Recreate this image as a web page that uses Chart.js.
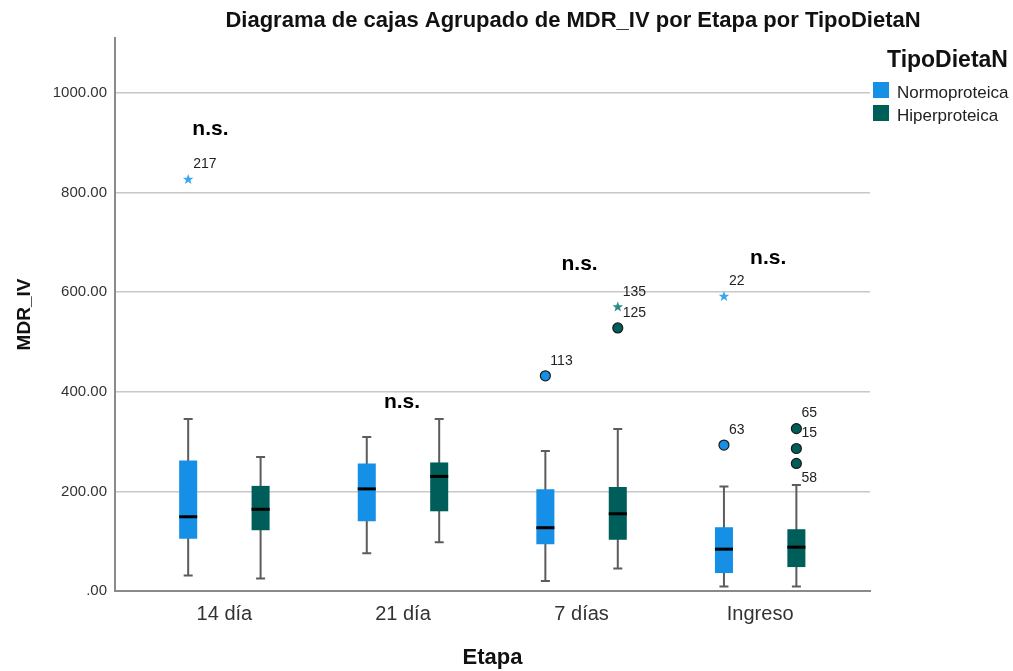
<!DOCTYPE html>
<html>
<head>
<meta charset="utf-8">
<script src="https://cdn.jsdelivr.net/npm/chart.js@4/dist/chart.umd.min.js"></script>
<style>
  html, body { margin: 0; padding: 0; background: #fff; }
  canvas { display: block; }
</style>
</head>
<body>
<canvas id="chart" width="1013" height="671"></canvas>
<script>
// categories (Etapa) and y ticks
const etapas = ["14 día", "21 día", "7 días", "Ingreso"];
const yTicks = [0, 200, 400, 600, 800, 1000];
const seriesNames = ["Normoproteica", "Hiperproteica"];

// Normoproteica box stats per etapa
const normoMin = [31, 76, 20, 9];
const normoQ1 = [105, 140, 94, 36];
const normoMed = [149, 205, 127, 84];
const normoQ3 = [262, 256, 204, 128];
const normoMax = [345, 309, 281, 210];

// Hiperproteica box stats per etapa
const hiperMin = [25, 98, 45, 9];
const hiperQ1 = [122, 160, 103, 48];
const hiperMed = [164, 230, 155, 88];
const hiperQ3 = [211, 258, 209, 124];
const hiperMax = [269, 345, 325, 213];

// outliers: [etapa index, value, case number, extreme?]
const normoOutliers = [[0, 826, "217", true], [2, 432, "113", false], [3, 293, "63", false], [3, 591, "22", true]];
const hiperOutliers = [[2, 528, "125", false], [2, 570, "135", true], [3, 326, "65", false], [3, 286, "15", false], [3, 256, "58", false]];

// significance labels above each etapa
const sigText = ["n.s.", "n.s.", "n.s.", "n.s."];
const sigValue = [926, 378, 655, 669];

const BLUE = "#168fe6";
const GREEN = "#005e5a";
const BLUE_STAR = "#3aa6f2";
const GREEN_STAR = "#2a8c84";
const FONT = "'Liberation Sans', Arial, sans-serif";

const stats = [
  { min: normoMin, q1: normoQ1, med: normoMed, q3: normoQ3, max: normoMax, out: normoOutliers, color: BLUE, star: BLUE_STAR },
  { min: hiperMin, q1: hiperQ1, med: hiperMed, q3: hiperQ3, max: hiperMax, out: hiperOutliers, color: GREEN, star: GREEN_STAR }
];

function drawStar(ctx, x, y, ro, ri, color) {
  ctx.beginPath();
  for (let k = 0; k < 10; k++) {
    const r = k % 2 === 0 ? ro : ri;
    const a = -Math.PI / 2 + k * Math.PI / 5;
    const px = x + r * Math.cos(a), py = y + r * Math.sin(a);
    k === 0 ? ctx.moveTo(px, py) : ctx.lineTo(px, py);
  }
  ctx.closePath();
  ctx.fillStyle = color;
  ctx.fill();
}

// whiskers, medians, outliers, labels, title and legend
const boxExtras = {
  id: "boxExtras",
  beforeDatasetsDraw(chart) {
    const ctx = chart.ctx, y = chart.scales.y;
    ctx.save();
    ctx.strokeStyle = "#5c5c5c";
    ctx.lineWidth = 2;
    stats.forEach((s, d) => {
      chart.getDatasetMeta(d).data.forEach((el, i) => {
        const x = el.x, cap = 4.5;
        const yMin = y.getPixelForValue(s.min[i]), yMax = y.getPixelForValue(s.max[i]);
        ctx.beginPath();
        ctx.moveTo(x, yMin); ctx.lineTo(x, yMax);
        ctx.moveTo(x - cap, yMin); ctx.lineTo(x + cap, yMin);
        ctx.moveTo(x - cap, yMax); ctx.lineTo(x + cap, yMax);
        ctx.stroke();
      });
    });
    ctx.restore();
  },
  afterDatasetsDraw(chart, args, opts) {
    const ctx = chart.ctx, y = chart.scales.y, xs = chart.scales.x;
    ctx.save();
    stats.forEach((s, d) => {
      const meta = chart.getDatasetMeta(d);
      meta.data.forEach((el, i) => {
        const ym = y.getPixelForValue(s.med[i]);
        ctx.beginPath();
        ctx.strokeStyle = "#000";
        ctx.lineWidth = 3;
        ctx.moveTo(el.x - el.width / 2, ym);
        ctx.lineTo(el.x + el.width / 2, ym);
        ctx.stroke();
      });
      s.out.forEach(([i, v, lab, extreme]) => {
        const px = meta.data[i].x, py = y.getPixelForValue(v);
        if (extreme) {
          drawStar(ctx, px, py, 5.5, 2.3, s.star);
        } else {
          ctx.beginPath();
          ctx.arc(px, py, 5, 0, Math.PI * 2);
          ctx.fillStyle = s.color;
          ctx.fill();
          ctx.lineWidth = 1.2;
          ctx.strokeStyle = "#1a1a1a";
          ctx.stroke();
        }
        ctx.font = "14px " + FONT;
        ctx.fillStyle = "#222";
        ctx.textAlign = "left";
        ctx.textBaseline = "middle";
        const dy = opts.labelsBelow.includes(lab) ? 15 : -15;
        ctx.fillText(lab, px + 5, py + dy);
      });
    });
    // n.s. labels
    ctx.font = "bold 21px " + FONT;
    ctx.fillStyle = "#000";
    ctx.textAlign = "center";
    ctx.textBaseline = "middle";
    sigText.forEach((t, i) => {
      ctx.fillText(t, xs.getPixelForValue(i) + opts.sigOffsetX[i], y.getPixelForValue(sigValue[i]));
    });
    ctx.restore();
  },
  afterDraw(chart) {
    const ctx = chart.ctx;
    ctx.save();
    // title
    ctx.font = "bold 22px " + FONT;
    ctx.fillStyle = "#111";
    ctx.textAlign = "center";
    ctx.textBaseline = "alphabetic";
    ctx.fillText("Diagrama de cajas Agrupado de MDR_IV por Etapa por TipoDietaN", 573, 27);
    // legend
    ctx.textAlign = "left";
    ctx.font = "bold 23px " + FONT;
    ctx.fillText("TipoDietaN", 887, 67);
    ctx.font = "17px " + FONT;
    [BLUE, GREEN].forEach((c, k) => {
      const top = 82 + k * 23;
      ctx.fillStyle = c;
      ctx.fillRect(873, top, 16, 16);
      ctx.fillStyle = "#222";
      ctx.fillText(seriesNames[k], 897, top + 16);
    });
    ctx.restore();
  }
};

new Chart(document.getElementById("chart"), {
  type: "bar",
  data: {
    datasets: stats.map((s, d) => ({
      label: seriesNames[d],
      data: etapas.map((e, i) => ({ x: i, y: [s.q1[i], s.q3[i]] })),
      backgroundColor: s.color,
      borderWidth: 0,
      categoryPercentage: 0.811,
      barPercentage: 0.249
    }))
  },
  options: {
    responsive: false,
    animation: false,
    layout: { padding: { top: 38, right: 143, left: 0, bottom: 0 } },
    plugins: {
      legend: { display: false },
      title: { display: false },
      tooltip: { enabled: false },
      boxExtras: { sigOffsetX: [-14, -1, -2, 8], labelsBelow: ["58"] }
    },
    scales: {
      x: {
        type: "linear",
        offset: false,
        min: -0.6125,
        max: 3.615,
        afterBuildTicks: (sc) => { sc.ticks = etapas.map((e, i) => ({ value: i })); },
        afterFit: (sc) => { sc.height = 80; },
        grid: { display: false, drawTicks: false },
        border: { display: true, color: "#8a8a8a", width: 2 },
        ticks: {
          padding: 11,
          color: "#333",
          font: { family: FONT, size: 20 },
          callback: (v) => etapas[v] ?? ""
        },
        title: {
          display: true,
          text: "Etapa",
          color: "#111",
          font: { family: FONT, size: 22, weight: "bold" },
          padding: { top: 0, bottom: 0 }
        }
      },
      y: {
        min: 0,
        max: 1110,
        afterBuildTicks: (sc) => { sc.ticks = yTicks.map(v => ({ value: v })); },
        afterFit: (sc) => { sc.width = 115; },
        grid: { color: "#c8c8c8", lineWidth: 1.5, drawTicks: false },
        border: { display: true, color: "#8a8a8a", width: 2 },
        ticks: {
          padding: 8,
          color: "#333",
          font: { family: FONT, size: 15 },
          callback: (v) => v === 0 ? ".00" : v.toFixed(2)
        },
        title: {
          display: true,
          text: "MDR_IV",
          color: "#111",
          font: { family: FONT, size: 19, weight: "bold" },
          padding: { top: 13, bottom: 0 }
        }
      }
    }
  },
  plugins: [boxExtras]
});
</script>
</body>
</html>
